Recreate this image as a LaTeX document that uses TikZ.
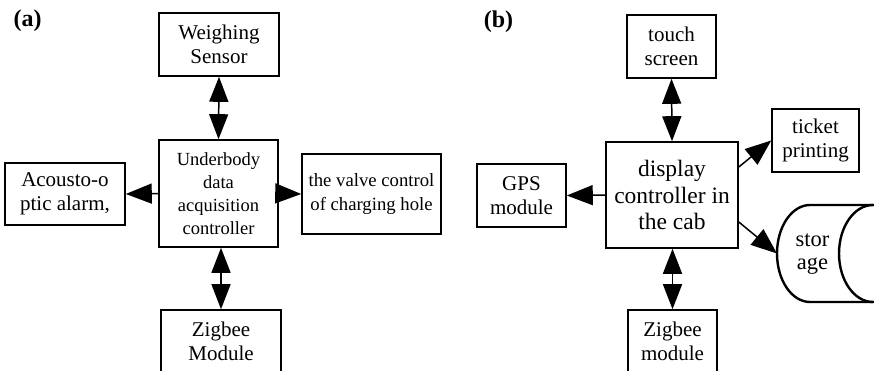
\documentclass[tikz,border=0pt]{standalone}
\usepackage{fontspec}
\setmainfont{Liberation Serif}
\usetikzlibrary{arrows.meta}

\begin{document}
\begin{tikzpicture}[x=1pt, y=-1pt,
  box/.style={draw, line width=1.6pt, rectangle, inner sep=0pt, align=center},
  onearrow/.style={-{Triangle[length=26pt, width=20pt]}, line width=1.5pt},
  twoarrow/.style={{Triangle[length=25pt, width=19pt]}-{Triangle[length=25pt, width=19pt]}, line width=1.5pt},
  txt/.style={font=\fontsize{21}{24}\selectfont},
  panel/.style={font=\fontsize{24}{26}\selectfont\bfseries, inner sep=0pt}]
\useasboundingbox (0,0) rectangle (874,371);
\clip (0,0) rectangle (874,371);

% ---------- panel (a) ----------
\node[panel] (la) at (27.5,21) {(a)};
\node[box, txt, minimum width=120pt, minimum height=63pt] (ws) at (219,44.5) {Weighing\\Sensor};
\node[box, minimum width=119pt, minimum height=107pt,
      font=\fontsize{18.5}{23}\selectfont] (ub) at (218.5,193.5)
      {Underbody\\data\\acquisition\\controller};
\node[box, txt, minimum width=120pt, minimum height=62pt] (ac) at (65,194) {Acousto-o\\ptic alarm,};
\node[box, minimum width=139pt, minimum height=80pt,
      font=\fontsize{18.7}{23.5}\selectfont] (vc) at (371.5,194)
      {the valve control\\of charging hole};
\node[box, txt, minimum width=120pt, minimum height=63pt] (za) at (221,341.5) {Zigbee\\Module};

\draw[twoarrow] (ws.south) -- (ub.north);
\draw[twoarrow] (za.north |- ub.south) -- (za.north);
\draw[onearrow] (ub.west) -- (ac.east);
\draw[onearrow] (ub.east) -- (vc.west);

% ---------- panel (b) ----------
\node[panel] (lb) at (498.5,22) {(b)};
\node[box, txt, minimum width=89pt, minimum height=63pt] (ts) at (671.5,46.5) {touch\\screen};
\node[box, minimum width=132pt, minimum height=106pt,
      font=\fontsize{23.5}{26.5}\selectfont] (dc) at (672,195)
      {display\\controller in\\the cab};
\node[box, txt, minimum width=89pt, minimum height=63pt] (gps) at (521.5,195.5) {GPS\\module};
\node[box, txt, minimum width=87pt, minimum height=63pt] (tp) at (815.5,140.5) {ticket\\printing};
\node[box, txt, minimum width=89pt, minimum height=63pt] (zb) at (672.5,341.5) {Zigbee\\module};

% storage drum, lying on its side
\draw[line width=2.4pt]
  (880,205) -- (810,205)
  .. controls (791.8,205) and (777,226.7) .. (777,253.5)
  .. controls (777,280.3) and (791.8,302) .. (810,302) -- (880,302);
\draw[line width=2.4pt]
  (873,205) .. controls (854.2,205) and (839,226.7) .. (839,253.5)
  .. controls (839,280.3) and (854.2,302) .. (873,302);
\coordinate (st) at (777,253.5);
\node[font=\fontsize{22.5}{23}\selectfont, align=center, inner sep=0pt] (stlabel) at (812.5,254) {stor\\age};

\draw[twoarrow] (ts.south) -- (dc.north);
\draw[twoarrow] (zb.north |- dc.south) -- (zb.north);
\draw[onearrow] (dc.west) -- (gps.east);
\draw[onearrow] ([yshift=28pt]dc.east) -- (tp.west);
\draw[onearrow] ([yshift=-27pt]dc.east) -- (st);
\end{tikzpicture}
\end{document}
